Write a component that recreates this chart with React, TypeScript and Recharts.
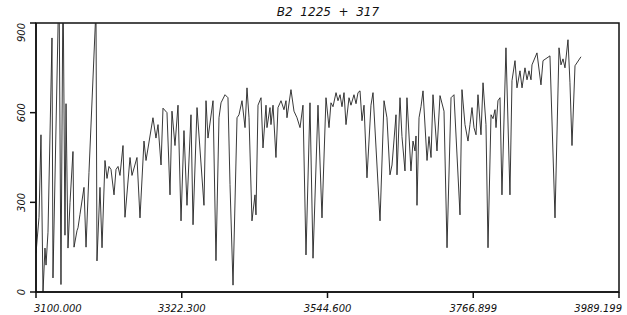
import React from "react";
import { LineChart, Line, XAxis, YAxis, ReferenceArea } from "recharts";

// wavelength (Å) of each sample
const WAVES: number[] = [
  3100.0, 3104.6, 3107.6, 3110.7, 3113.7, 3115.3, 3118.3, 3124.4, 3125.9, 3135.1,
  3138.1, 3141.2, 3144.2, 3145.8, 3148.8, 3151.9, 3156.4, 3158.0, 3162.5, 3164.1,
  3167.1, 3173.2, 3176.3, 3180.8, 3191.5, 3193.0, 3197.6, 3200.7, 3205.2, 3208.3,
  3211.3, 3214.4, 3219.0, 3222.0, 3225.1, 3228.1, 3232.7, 3235.7, 3243.4, 3246.4,
  3254.0, 3258.6, 3264.7, 3267.8, 3278.4, 3283.0, 3286.1, 3290.7, 3293.7, 3299.8,
  3304.4, 3307.4, 3312.0, 3316.6, 3321.2, 3325.7, 3330.3, 3336.4, 3339.5, 3345.6,
  3356.2, 3359.3, 3362.3, 3370.0, 3374.5, 3379.1, 3382.2, 3388.3, 3392.8, 3395.9,
  3400.5, 3406.6, 3409.6, 3414.2, 3418.8, 3421.8, 3424.9, 3429.4, 3434.0, 3435.5,
  3438.6, 3443.2, 3446.2, 3450.8, 3452.3, 3456.9, 3458.4, 3461.5, 3466.0, 3469.1,
  3473.7, 3478.2, 3481.3, 3482.8, 3488.9, 3493.5, 3498.1, 3502.7, 3507.2, 3511.8,
  3517.9, 3522.5, 3530.1, 3536.2, 3542.3, 3546.9, 3549.9, 3553.0, 3557.6, 3560.6,
  3563.7, 3566.7, 3569.8, 3572.8, 3577.4, 3580.4, 3585.0, 3588.1, 3591.1, 3594.2,
  3597.2, 3600.3, 3604.8, 3610.9, 3614.0, 3624.7, 3630.8, 3635.3, 3639.9, 3643.0,
  3649.1, 3650.6, 3655.2, 3658.2, 3662.8, 3665.8, 3671.9, 3675.0, 3678.1, 3679.6,
  3681.1, 3684.2, 3687.2, 3690.3, 3696.4, 3699.4, 3702.5, 3705.5, 3711.6, 3716.2,
  3722.3, 3726.9, 3733.0, 3737.5, 3746.7, 3749.7, 3754.3, 3758.9, 3761.9, 3765.0,
  3768.0, 3771.1, 3774.1, 3778.7, 3781.8, 3786.3, 3789.4, 3794.0, 3797.0, 3800.1,
  3801.6, 3804.6, 3807.7, 3810.7, 3816.8, 3822.9, 3826.0, 3830.6, 3833.6, 3838.2,
  3841.3, 3845.8, 3848.9, 3851.9, 3855.0, 3856.5, 3864.1, 3870.2, 3873.3, 3883.9,
  3891.6, 3897.7, 3900.7, 3903.8, 3906.8, 3911.4, 3914.4, 3917.5, 3922.1, 3931.2,
];

// flux at each wavelength
const FLUX: number[] = [
  130, 250, 526, 0, 147, 90, 200, 850, 47, 1050,
  25, 1050, 190, 630, 147, 300, 470, 150, 205, 215,
  260, 350, 150, 400, 950, 104, 350, 148, 440, 380,
  420, 410, 325, 410, 420, 390, 490, 250, 450, 390,
  450, 248, 505, 440, 583, 515, 560, 425, 615, 600,
  325, 605, 490, 625, 238, 540, 290, 593, 225, 617,
  290, 640, 515, 640, 105, 583, 633, 660, 650, 360,
  23, 583, 593, 640, 550, 683, 583, 238, 325, 258,
  625, 650, 482, 625, 550, 617, 560, 625, 450, 617,
  640, 610, 640, 583, 677, 605, 583, 550, 625, 124,
  633, 113, 625, 248, 650, 550, 633, 620, 667, 640,
  660, 620, 667, 560, 650, 625, 660, 630, 667, 673,
  573, 625, 382, 625, 667, 238, 640, 583, 392, 425,
  593, 392, 650, 520, 405, 650, 405, 505, 472, 522,
  290, 583, 620, 673, 440, 520, 450, 660, 472, 657,
  605, 148, 650, 660, 258, 677, 560, 505, 560, 617,
  550, 526, 660, 526, 700, 560, 148, 593, 580, 610,
  550, 640, 650, 325, 817, 325, 707, 774, 683, 740,
  683, 750, 710, 740, 710, 760, 800, 693, 774, 790,
  248, 817, 760, 780, 750, 844, 700, 490, 757, 787,
];

const X_TICKS: number[] = [3100, 3322.3, 3544.6, 3766.899, 3989.199];
const Y_TICKS: number[] = [0, 300, 600, 900];
const TITLE = "B2  1225  +  317";

const data = WAVES.map((w, i) => ({ w, flux: FLUX[i] }));

const FONT = "'DejaVu Sans', sans-serif";

const XTick = ({ x, y, payload, index }: any) => {
  const anchor = index === 0 ? "start" : index === X_TICKS.length - 1 ? "end" : "middle";
  const dx = index === 0 ? -2 : index === X_TICKS.length - 1 ? 3 : 0;
  return (
    <text x={x + dx} y={y + 12} textAnchor={anchor} fontSize={10} fontStyle="italic"
      fontFamily={FONT} fill="#111">
      {Number(payload.value).toFixed(3)}
    </text>
  );
};

const YTick = ({ y, payload }: any) => {
  const top = payload.value === 900;
  return (
    <text transform={`translate(21, ${y}) rotate(-90)`} textAnchor={top ? "end" : "middle"}
      dy="0.35em" fontSize={10} fontStyle="italic" fontFamily={FONT} fill="#111">
      {payload.value}
    </text>
  );
};

export default function App() {
  return (
    <div style={{ position: "absolute", left: 0, top: 0, width: 627, height: 315, background: "#fff" }}>
      <div style={{
        position: "absolute", left: 0, top: 5, width: 656, textAlign: "center",
        fontFamily: FONT, fontStyle: "italic", fontSize: 12, color: "#111", whiteSpace: "pre",
      }}>
        {TITLE}
      </div>
      <LineChart width={627} height={315} data={data}
        margin={{ top: 23, right: 8, left: 0, bottom: 0 }}>
        <XAxis dataKey="w" type="number" domain={[3100, 3989.199]} ticks={X_TICKS}
          allowDataOverflow interval={0} height={23} tickSize={6}
          stroke="#111" strokeWidth={1.5} tick={<XTick />} />
        <YAxis type="number" domain={[0, 900]} ticks={Y_TICKS} allowDataOverflow
          width={36} tickSize={6} stroke="#111" strokeWidth={1.5} tick={<YTick />} />
        <ReferenceArea x1={3100} x2={3989.199} y1={0} y2={900}
          fill="none" stroke="#111" strokeWidth={1.5} ifOverflow="visible" />
        <Line dataKey="flux" type="linear" stroke="#222" strokeWidth={0.9}
          dot={false} isAnimationActive={false} />
      </LineChart>
    </div>
  );
}
